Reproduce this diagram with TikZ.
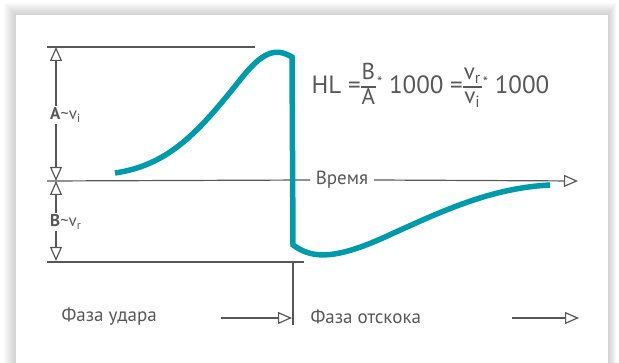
\documentclass[tikz,border=0pt]{standalone}
\usepackage{fontspec}
\setmainfont{PT Sans}
\usetikzlibrary{arrows.meta,positioning}
\definecolor{curveteal}{RGB}{0,155,170}
\definecolor{axisgray}{RGB}{88,88,88}
\newcommand{\ratio}[2]{{\fontsize{23}{23}\selectfont\renewcommand{\arraystretch}{1.0}\setlength{\arrayrulewidth}{1.6pt}%
  \begin{tabular}{@{\hspace{1pt}}c@{\hspace{1pt}}}#1\\\hline #2\end{tabular}}}
\newcommand{\timesstar}{\hspace{1pt}\raisebox{6pt}{\fontsize{15}{15}\selectfont*}}

\begin{document}
\begin{tikzpicture}[x=1pt,y=-1pt,>={Triangle[open,length=14pt,width=12pt]},line width=1.2pt]
\tikzstyle{lbl}=[text=axisgray,inner sep=1pt,font=\fontsize{19}{22}\selectfont]
\tikzstyle{dim}=[text=axisgray,fill=white,inner sep=1.5pt,font=\fontsize{17}{20}\selectfont]
\tikzstyle{ln}=[draw=axisgray]
\useasboundingbox (0,0) rectangle (619,363);
% card with soft shadow
\foreach \k in {1,...,12} \fill[black,opacity=0.014] (16-\k,15-\k) rectangle (608+0.7*\k,380);
\fill[white] (16,15) rectangle (608,380);
% reference lines
\coordinate (topL) at (47,47); \coordinate (topR) at (255,47);
\coordinate (zeroL) at (47,181); \coordinate (zeroR) at (578,181);
\coordinate (botL) at (47,262); \coordinate (botR) at (304,262);
\coordinate (split) at (293,262); \coordinate (splitE) at (293,325);
\node[lbl,fill=white,inner sep=5pt] (time) at (342,180) {Время};
\draw[ln] (topL)--(topR);
\draw[ln] (botL)--(botR);
\draw[ln] (zeroL)--(time.west);
\draw[ln,->] (time.east)--(zeroR);
\draw[ln] (split)--(splitE);
% amplitudes
\draw[ln,<->] (56,47)--(56,181);
\draw[ln,<->] (56,181)--(56,261);
\node[dim,anchor=west] (ampA) at (48,115) {\textbf{A}\textasciitilde v\textsubscript{i}};
\node[dim,anchor=west] (ampB) at (48,222) {\textbf{B}\textasciitilde v\textsubscript{r}};
% phases
\node[lbl,anchor=west] (impact) at (60,317) {Фаза удара};
\node[lbl,anchor=west] (rebound) at (309,317) {Фаза отскока};
\coordinate (impactA) at (221,318); \coordinate (impactB) at (292,318);
\coordinate (reboundA) at (512,318); \coordinate (reboundB) at (579,318);
\draw[ln,->] (impactA)--(impactB);
\draw[ln,->] (reboundA)--(reboundB);
% formula
\node[text=axisgray,anchor=west,inner sep=0pt,font=\fontsize{25}{28}\selectfont] (formula) at (311,87)
  {HL =\ratio{B}{A}\timesstar\ 1000 =\ratio{v\textsubscript{r}}{v\textsubscript{i}}\timesstar\ 1000};
% signal
\draw[curveteal,line width=5.5pt] (115,173) .. controls (170,165) and (200,130) .. (240,80)
  .. controls (262,52) and (275,47) .. (292,57) -- (293,245)
  .. controls (310,257) and (330,262) .. (385,237)
  .. controls (440,212) and (490,188) .. (550,185);
\end{tikzpicture}
\end{document}
